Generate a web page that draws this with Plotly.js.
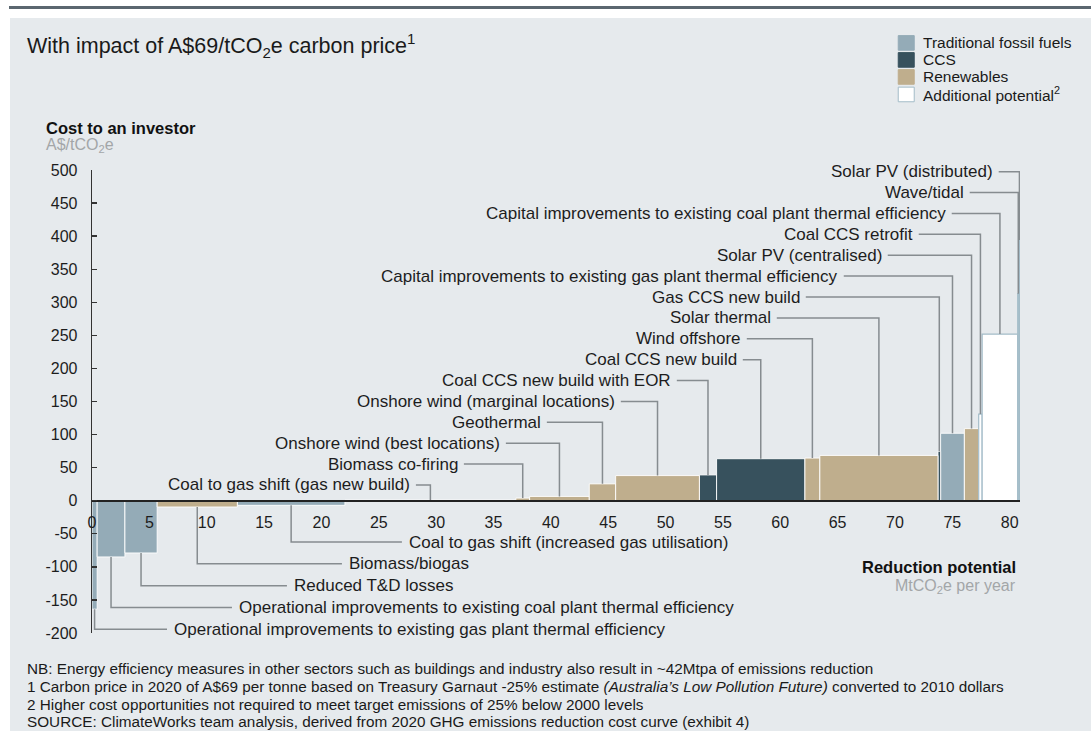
<!DOCTYPE html>
<html><head><meta charset="utf-8">
<script src="https://cdn.plot.ly/plotly-3.0.1.min.js"></script>
<style>
html,body{margin:0;padding:0;background:#ffffff;overflow:hidden;}
#topline{position:absolute;left:9px;top:6px;right:0;height:3px;background:#5b6770;}
#panel{position:absolute;left:10px;top:18px;right:0;bottom:0;background:#e6eaed;}
#chart{position:absolute;left:0;top:0;width:1091px;height:731px;}
</style></head><body>
<div id="topline"></div><div id="panel"></div><div id="chart"></div>
<script>
// ---------- DATA ----------
const levers = [
  "Operational improvements to existing gas plant thermal efficiency",
  "Operational improvements to existing coal plant thermal efficiency",
  "Reduced T&D losses",
  "Biomass/biogas",
  "Coal to gas shift (increased gas utilisation)",
  "Coal to gas shift (gas new build)",
  "Biomass co-firing",
  "Onshore wind (best locations)",
  "Geothermal",
  "Onshore wind (marginal locations)",
  "Coal CCS new build with EOR",
  "Coal CCS new build",
  "Wind offshore",
  "Solar thermal",
  "Gas CCS new build",
  "Capital improvements to existing gas plant thermal efficiency",
  "Solar PV (centralised)",
  "Coal CCS retrofit",
  "Capital improvements to existing coal plant thermal efficiency",
  "Wave/tidal",
  "Solar PV (distributed)"
];
// reduction potential, MtCO2e per year (bar widths)
const potential = [0.45, 2.42, 2.81, 6.99, 9.38, 14.9, 1.2, 5.2, 2.3, 7.3, 1.5, 7.7, 1.3, 10.3, 0.23, 2.07, 1.25, 0.3, 3.1, 0.1, 0.1];
// cost to an investor, A$/tCO2e
const cost = [-164, -85, -79, -9.5, -7, 1, 4, 6.5, 25.5, 38, 39, 63.5, 64.5, 68.5, 74.5, 102, 109, 131, 252, 313, 394];
const category = ["fossil","fossil","fossil","renew","fossil","fossil","renew","renew","renew","renew","ccs","ccs","renew","renew","ccs","fossil","renew","add","add","add","add"];
const categoryNames = {fossil:"Traditional fossil fuels", ccs:"CCS", renew:"Renewables", add:"Additional potential<sup>2</sup>"};
const categoryOrder = ["fossil","ccs","renew","add"];
const xTicks = [0,5,10,15,20,25,30,35,40,45,50,55,60,65,70,75,80];
const yTicks = [-200,-150,-100,-50,0,50,100,150,200,250,300,350,400,450,500];

// ---------- STYLE / LAYOUT ----------
const fill = {fossil:"#94abb7", ccs:"#37515d", renew:"#bfae8d", add:"#ffffff"};
const edge = {fossil:"#ffffff", ccs:"#ffffff", renew:"#ffffff", add:"#a3bcc8"};
const XMAX = 80.9, YMIN = -200, YMAX = 500;
const L = 92, T = 170, W = 928.3, H = 462.7;
const pX = p => (p - L) / W;               // pixel -> paper x
const pY = p => (T + H - p) / H;           // pixel -> paper y
const dX = p => (p - L) / W * XMAX;        // pixel -> data x
const dY = p => YMAX - (p - T) / H * (YMAX - YMIN); // pixel -> data y

// label placement: lever index -> [side, row, text edge px]
const labelPlace = {
  20:["top",0,995], 19:["top",1,966], 18:["top",2,948], 17:["top",3,915],
  16:["top",4,884], 15:["top",5,840], 14:["top",6,802], 13:["top",7,773],
  12:["top",8,743], 11:["top",9,739], 10:["top",10,673], 9:["top",11,617],
  8:["top",12,543], 7:["top",13,502], 6:["top",14,460], 5:["top",15,412],
  4:["bot",0,407], 3:["bot",1,347], 2:["bot",2,292], 1:["bot",3,237], 0:["bot",4,172]
};
const topRow0 = 171.7, topStep = 20.87, botRow0 = 541.8, botStep = 21.8;

// ---------- BUILD ----------
const centers = [];
let acc = 0;
potential.forEach(w => { centers.push(acc + w/2); acc += w; });

const traces = categoryOrder.map(cat => {
  const idx = category.map((c,i) => c===cat ? i : -1).filter(i => i>=0);
  return {
    type:"bar", name: categoryNames[cat], showlegend:false,
    x: idx.map(i => centers[i]), y: idx.map(i => cost[i]), width: idx.map(i => potential[i]),
    hovertext: idx.map(i => levers[i]), hoverinfo:"text", textposition:"none",
    marker:{color: fill[cat], line:{color: edge[cat], width: cat==="add"?1.2:0.9}}
  };
});

const txtFont = {family:"Liberation Sans, Arial, sans-serif", size:17, color:"#1d1d1d"};
const annotations = [], shapes = [];
const leaderLine = {color:"#868c90", width:1.5};

Object.keys(labelPlace).forEach(k => {
  const i = +k; const [side,row,edgePx] = labelPlace[k];
  if (side === "top") {
    const rowPx = topRow0 + row*topStep;
    annotations.push({xref:"x", yref:"y", x: dX(edgePx), y: dY(rowPx), xanchor:"right", yanchor:"middle",
      text: levers[i], showarrow:false, font: txtFont});
    const x0 = dX(edgePx + 4), y0 = dY(rowPx);
    shapes.push({type:"path", xref:"x", yref:"y", layer:"above",
      path:`M ${x0},${y0} L ${centers[i]},${y0} L ${centers[i]},${cost[i]}`, line: leaderLine});
  } else {
    const rowPx = botRow0 + row*botStep;
    annotations.push({xref:"x", yref:"y", x: dX(edgePx), y: dY(rowPx), xanchor:"left", yanchor:"middle",
      text: levers[i], showarrow:false, font: txtFont});
    const x1 = dX(edgePx - 5), y1 = dY(rowPx);
    shapes.push({type:"path", xref:"x", yref:"y", layer:"above",
      path:`M ${centers[i]},${cost[i]} L ${centers[i]},${y1} L ${x1},${y1}`, line: leaderLine});
  }
});

// titles and notes
const ann = (px, py, text, opts={}) => annotations.push(Object.assign({xref:"paper", yref:"paper",
  x:pX(px), y:pY(py), xanchor:"left", yanchor:"middle", text, showarrow:false, font: txtFont}, opts));

ann(25, 46, "With impact of A$69/tCO<sub>2</sub>e carbon price<sup>1</sup>", {font:{family:txtFont.family, size:21.5, color:"#1a1a1a"}});
ann(44, 128, "<b>Cost to an investor</b>", {font:{family:txtFont.family, size:16.5, color:"#111"}});
ann(44, 146, "A$/tCO<sub>2</sub>e", {font:{family:txtFont.family, size:16, color:"#a3a6a8"}});
ann(1018, 567, "<b>Reduction potential</b>", {xanchor:"right", font:{family:txtFont.family, size:16.5, color:"#111"}});
ann(1018, 586, "MtCO<sub>2</sub>e per year", {xanchor:"right", font:{family:txtFont.family, size:16, color:"#a3a6a8"}});

const noteFont = {family:txtFont.family, size:15.3, color:"#1a1a1a"};
ann(25, 668, "NB: Energy efficiency measures in other sectors such as buildings and industry also result in ~42Mtpa of emissions reduction", {font:noteFont});
ann(25, 686, "1 Carbon price in 2020 of A$69 per tonne based on Treasury Garnaut -25% estimate <i>(Australia’s Low Pollution Future)</i> converted to 2010 dollars", {font:noteFont});
ann(25, 704, "2 Higher cost opportunities not required to meet target emissions of 25% below 2000 levels", {font:noteFont});
ann(25, 721, "SOURCE: ClimateWorks team analysis, derived from 2020 GHG emissions reduction cost curve (exhibit 4)", {font:noteFont});

// legend
const legendRows = [43, 60, 77, 94.5];
categoryOrder.forEach((cat, r) => {
  const cy = legendRows[r];
  shapes.push({type:"rect", xref:"paper", yref:"paper", x0:pX(898.5), x1:pX(914.5), y0:pY(cy-7.3), y1:pY(cy+7.3),
    fillcolor: fill[cat], line:{color: cat==="add" ? "#a3bcc8" : fill[cat], width:1}});
  ann(921, cy, categoryNames[cat], {font:{family:txtFont.family, size:15.5, color:"#1a1a1a"}});
});

const layout = {
  width:1091, height:731,
  margin:{l:L, r:1091-L-W, t:T, b:731-T-H, pad:0},
  paper_bgcolor:"rgba(0,0,0,0)", plot_bgcolor:"rgba(0,0,0,0)",
  barmode:"overlay", bargap:0, showlegend:false,
  font: txtFont,
  xaxis:{range:[0,XMAX], anchor:"free", position:(0-YMIN)/(YMAX-YMIN), showgrid:false, zeroline:false,
    showline:true, linecolor:"#222", linewidth:2, ticks:"", tickvals:xTicks, ticktext:xTicks.map(String),
    tickfont:{family:txtFont.family, size:16, color:"#1d1d1d"}, ticklabelstandoff:7, fixedrange:true},
  yaxis:{range:[YMIN,YMAX], showgrid:false, zeroline:false, showline:true, linecolor:"#333", linewidth:1.3,
    ticks:"inside", ticklen:5, tickcolor:"#333", tickwidth:1.3, tickvals:yTicks, ticktext:yTicks.map(v=>String(v)),
    tickfont:{family:txtFont.family, size:16, color:"#1d1d1d"}, ticklabelstandoff:10, fixedrange:true},
  annotations, shapes
};
Plotly.newPlot("chart", traces, layout, {displayModeBar:false, staticPlot:true});
</script>
</body></html>
